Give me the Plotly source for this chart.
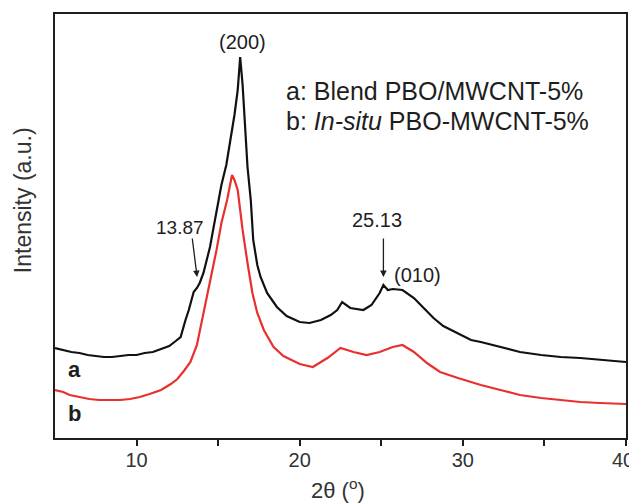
import plotly.graph_objects as go

# 2-theta (degrees) and intensities (a.u.)
two_theta_a = [5.0, 5.5, 6.0, 6.5, 7.0, 7.5, 8.0, 8.5, 9.0, 9.5, 10.0, 10.5, 11.0, 11.5, 12.0,
               12.4, 12.7, 13.0, 13.2, 13.5, 13.7, 13.87, 14.1, 14.5, 14.9, 15.2, 15.5, 15.86,
               16.0, 16.2, 16.35, 16.5, 16.65, 16.8, 17.0, 17.15, 17.4, 17.6, 18.0, 18.6, 19.2,
               20.0, 20.6, 21.3, 21.9, 22.3, 22.6, 23.1, 23.9, 24.4, 24.9, 25.13, 25.4, 25.7,
               26.3, 27.0, 27.6, 28.2, 28.8, 29.7, 30.5, 31.1, 32.3, 33.5, 34.8, 36.0, 37.2,
               38.4, 40.0]
intensity_a = [90, 88, 86, 85, 83, 82, 81, 81, 82, 83, 83, 85, 86, 89, 92,
               97, 101, 118, 128, 146, 150, 155, 165, 191, 225, 253, 273, 308,
               323, 348, 381, 353, 313, 271, 238, 198, 173, 161, 145, 131, 122,
               116, 115, 118, 123, 128, 136, 130, 128, 133, 145, 153, 148, 149,
               148, 140, 130, 120, 112, 105, 98, 96, 91, 86, 83, 81, 80,
               78, 76]

two_theta_b = [5.0, 5.5, 5.9, 6.5, 7.1, 7.7, 8.4, 9.0, 9.6, 10.2, 10.8, 11.5, 12.1, 12.5,
               12.9, 13.3, 13.7, 14.1, 14.5, 14.9, 15.2, 15.55, 15.85, 16.0, 16.2, 16.5, 16.8,
               17.1, 17.4, 17.8, 18.4, 19.0, 20.0, 20.8, 21.7, 22.5, 23.3, 24.1, 24.9, 25.7,
               26.3, 27.0, 27.8, 28.6, 29.7, 31.1, 32.3, 33.5, 34.8, 36.0, 37.2, 38.4, 40.0]
intensity_b = [48, 46, 43, 41, 39, 38, 38, 38, 39, 41, 44, 48, 54, 59,
               67, 76, 93, 125, 155, 188, 215, 238, 263, 258, 248, 208, 175,
               145, 125, 108, 91, 82, 74, 71, 80, 90, 86, 83, 86, 91,
               93, 86, 75, 66, 60, 53, 48, 43, 40, 38, 36, 35, 34]

x_ticks = [10, 15, 20, 25, 30, 35, 40]
x_tick_text = ["10", "", "20", "", "30", "", ""]
last_tick_label = "40"   # drawn separately so it is not cut at the window edge

FONT = "Liberation Sans, Arial, sans-serif"
INK = "#1e1e1e"

fig = go.Figure()
fig.add_trace(go.Scatter(x=two_theta_a, y=intensity_a, mode="lines",
                         line=dict(color="#111111", width=2.2), showlegend=False))
fig.add_trace(go.Scatter(x=two_theta_b, y=intensity_b, mode="lines",
                         line=dict(color="#e8302e", width=2.2), showlegend=False))

ann = []
def label(x, y, text, size=20, xanchor="center", **kw):
    ann.append(dict(x=x, y=y, text=text, xanchor=xanchor, yanchor="middle", showarrow=False,
                    font=dict(family=FONT, size=size, color=INK), **kw))

label(16.47, 396, "(200)")
label(12.67, 211, "13.87", size=19)
label(24.75, 218, "25.13")
label(25.67, 163, "(010)", xanchor="left")
label(6.2, 69, "<b>a</b>", size=22)
label(6.2, 25, "<b>b</b>", size=22)
label(19.05, 347, "a: Blend PBO/MWCNT-5%", size=25, xanchor="left")
label(19.05, 317, "b: <i>In-situ</i> PBO-MWCNT-5%", size=25, xanchor="left")
# arrows
ann.append(dict(x=13.71, y=161, ax=-5, ay=-40, text="", showarrow=True, arrowhead=2,
                arrowsize=1, arrowwidth=1.3, arrowcolor=INK))
ann.append(dict(x=25.13, y=161, ax=0, ay=-40, text="", showarrow=True, arrowhead=2,
                arrowsize=1, arrowwidth=1.3, arrowcolor=INK))
# last x tick label, right-aligned to the window edge
ann.append(dict(xref="paper", yref="paper", x=1.0, y=-0.052, text=last_tick_label,
                xanchor="right", yanchor="middle", xshift=10, showarrow=False,
                font=dict(family=FONT, size=20, color="#333")))
# axis titles
ann.append(dict(xref="paper", yref="paper", x=-0.056, y=0.561, text="Intensity (a.u.)",
                textangle=-90, showarrow=False, xanchor="center", yanchor="middle",
                font=dict(family=FONT, size=23, color="#333")))
ann.append(dict(xref="paper", yref="paper", x=0.4956, y=-0.12, text="2θ (<sup>o</sup>)",
                showarrow=False, xanchor="center", yanchor="middle",
                font=dict(family=FONT, size=22, color="#333")))

# the page places the figure 8px in from the window's top-left corner
fig.update_layout(
    width=637, height=504,
    margin=dict(l=47, r=19, t=6, b=74, autoexpand=False),
    paper_bgcolor="white", plot_bgcolor="white",
    font=dict(family=FONT, size=20, color=INK),
    annotations=ann,
    xaxis=dict(range=[5, 40], tickvals=x_ticks, ticktext=x_tick_text, automargin=False,
               ticks="outside", ticklen=6, tickwidth=1.5, tickcolor=INK,
               ticklabelstandoff=-3,
               showline=True, linecolor=INK, linewidth=2, mirror=True,
               showgrid=False, zeroline=False,
               tickfont=dict(family=FONT, size=20, color="#333")),
    yaxis=dict(range=[0, 424], showticklabels=False, ticks="", automargin=False,
               showline=True, linecolor=INK, linewidth=2, mirror=True,
               showgrid=False, zeroline=False),
)

fig.write_html("out.html")
